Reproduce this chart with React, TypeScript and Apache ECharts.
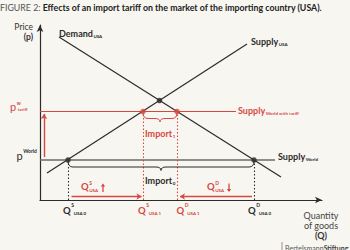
import React, { useEffect, useRef } from 'react';
import * as echarts from 'echarts';

// ---------- data (chart units: x = quantity, y = price) ----------
const xMax = 282;
const yMax = 175;
const demandLine = [[19, 163], [241, 23]];
const supplyUSALine = [[7, 27], [207, 156]];
const pWorld = 40;
const pTariff = 88.5;
const worldLineEnd = 235;
const tariffLineEnd = 196;
const qS0 = 28;
const qS1 = 103;
const qD1 = 137;
const qD0 = 214;
const equilibrium = [119.5, 99.5];
const priceArrow = [[4, 43], [4, 86]];
const supplyArrow = [[31.5, 3.5], [101.5, 3.5]];
const demandArrow = [[212, 3.5], [140, 3.5]];
const titleLead = 'FIGURE 2: ';
const titleMain = 'Effects of an import tariff on the market of the importing country (USA).';

// ---------- style ----------
const RED = '#d6473f';
const INK = '#2b2b2b';
const GRAY = '#6a6a6a';
const BG = '#f7f6f1';
const FF = 'Lato, "Noto Sans", sans-serif';
const G = { left: 40, top: 25, right: 28, bottom: 50 };
const px = (x: number) => G.left + x;
const py = (y: number) => 250 - G.bottom - y;

let ctx: CanvasRenderingContext2D | null = null;
function tw(text: string, size: number, weight: string) {
  if (!ctx) ctx = document.createElement('canvas').getContext('2d');
  if (!ctx) return text.length * size * 0.5;
  ctx.font = `${weight} ${size}px Lato`;
  return ctx.measureText(text).width;
}

function lab(o: {
  x: number; y: number; base: string; sup?: string; sub?: string; color: string;
  size?: number; weight?: string; small?: number; subDx?: number; supDy?: number; subDy?: number;
}) {
  const size = o.size ?? 9;
  const weight = o.weight ?? 'bold';
  const small = o.small ?? 5;
  const wb = tw(o.base, size, weight);
  const els: any[] = [
    { type: 'text', x: o.x, y: o.y, style: { text: o.base, fill: o.color, fontSize: size, fontWeight: weight, fontFamily: FF, verticalAlign: 'middle', align: 'left' } },
  ];
  if (o.sup) els.push({ type: 'text', x: o.x + wb + 0.5, y: o.y + (o.supDy ?? -size * 0.5), style: { text: o.sup, fill: o.color, fontSize: small + 0.5, fontWeight: 'bold', fontFamily: FF, verticalAlign: 'middle', align: 'left' } });
  if (o.sub) els.push({ type: 'text', x: o.x + wb + (o.subDx ?? 0.5), y: o.y + (o.subDy ?? size * 0.38), style: { text: o.sub, fill: o.color, fontSize: small, fontWeight: 'bold', fontFamily: FF, verticalAlign: 'middle', align: 'left' } });
  return els;
}

function arrowGlyph(x: number, y: number, up: boolean) {
  const top = y - 4.5, bot = y + 4;
  return [
    { type: 'line', shape: { x1: x, y1: up ? top + 2 : top, x2: x, y2: up ? bot : bot - 2 }, style: { stroke: RED, lineWidth: 1.3 } },
    { type: 'polygon', shape: { points: up ? [[x - 2.2, top + 3], [x + 2.2, top + 3], [x, top]] : [[x - 2.2, bot - 3], [x + 2.2, bot - 3], [x, bot]] }, style: { fill: RED } },
  ];
}

function braceSeries(x0: number, x1: number, y: number, color: string) {
  return {
    type: 'custom',
    silent: true,
    z: 3,
    data: [[x0, x1, y]],
    renderItem: (_p: any, api: any) => {
      const a = api.coord([api.value(0), api.value(2)]);
      const b = api.coord([api.value(1), api.value(2)]);
      const y0 = a[1] + 1;
      const yf = y0 + 6;
      const yt = y0 + 9.5;
      const r = 5;
      const ax = a[0], bx = b[0], m = (ax + bx) / 2;
      const d = `M${ax},${y0} Q${ax},${yf} ${ax + r},${yf} L${m - r},${yf} Q${m},${yf} ${m},${yt} Q${m},${yf} ${m + r},${yf} L${bx - r},${yf} Q${bx},${yf} ${bx},${y0}`;
      return { type: 'path', shape: { pathData: d }, style: { stroke: color, fill: 'none', lineWidth: 1 } };
    },
  };
}

export default function App() {
  const ref = useRef<HTMLDivElement>(null);
  useEffect(() => {
    if (!ref.current) return;
    const chart = echarts.init(ref.current, null, { renderer: 'svg' });
    const axisCommon = {
      type: 'value',
      axisLine: { show: true, onZero: false, symbol: ['none', 'arrow'], symbolSize: [5, 7], lineStyle: { color: INK, width: 1.2 } },
      axisTick: { show: false },
      axisLabel: { show: false },
      splitLine: { show: false },
    };
    const qLabelY = 210;
    const graphic: any[] = [
      {
        type: 'text', x: 0, y: 7,
        style: {
          text: `{a|${titleLead}}{b|${titleMain}}`, verticalAlign: 'middle',
          rich: {
            a: { fontSize: 8.8, fontFamily: FF, fill: '#555', fontWeight: 'normal' },
            b: { fontSize: 8.8, fontFamily: FF, fill: '#222', fontWeight: 'bold' },
          },
        },
      },
      { type: 'text', x: 33, y: 27, style: { text: 'Price', fontSize: 8.5, fontFamily: FF, fill: '#333', align: 'right', verticalAlign: 'middle' } },
      { type: 'text', x: 33, y: 37, style: { text: '(p)', fontSize: 8.5, fontWeight: 'bold', fontFamily: FF, fill: '#333', align: 'right', verticalAlign: 'middle' } },
      ...lab({ x: 10, y: py(pTariff) - 5, base: 'p', sup: 'w', sub: 'tariff', color: RED, size: 11, weight: 'normal', small: 4.5, supDy: -4, subDy: 3, subDx: 1.5 }),
      ...lab({ x: 16.5, y: py(pWorld) - 5, base: 'p', sup: 'World', color: INK, size: 11, weight: 'normal', small: 4.5, supDy: -4.5 }),
      ...lab({ x: px(demandLine[0][0]), y: 33, base: 'Demand', sub: 'USA', color: INK, size: 9, small: 4.5, subDy: 3 }),
      ...lab({ x: px(supplyUSALine[1][0]) + 4, y: 41.5, base: 'Supply', sub: 'USA', color: INK, size: 9, small: 4.5, subDy: 3 }),
      ...lab({ x: px(tariffLineEnd) + 2, y: py(pTariff) - 1, base: 'Supply', sub: 'World with tariff', color: RED, size: 9, small: 4.5, subDy: 3 }),
      ...lab({ x: px(worldLineEnd) + 3, y: py(pWorld) - 3.5, base: 'Supply', sub: 'World', color: INK, size: 9, small: 4.5, subDy: 3 }),
      ...lab({ x: px((qS1 + qD1) / 2) - 15, y: 133, base: 'Import', sub: '1', color: RED, size: 9, small: 4.5, subDy: 3 }),
      ...lab({ x: px((qS0 + qD0) / 2) - 16, y: 180, base: 'Import', sub: '0', color: INK, size: 9, small: 4.5, subDy: 3 }),
      ...lab({ x: px(qS0) + 13, y: 186.5, base: 'Q', sup: 'S', sub: 'USA', color: RED, size: 9.5, small: 4.5, subDy: 4, supDy: -4 }),
      ...arrowGlyph(px(qS0) + 35, 188, true),
      ...lab({ x: px(qD1) + 30, y: 186.5, base: 'Q', sup: 'D', sub: 'USA', color: RED, size: 9.5, small: 4.5, subDy: 4, supDy: -4 }),
      ...arrowGlyph(px(qD1) + 52, 188, false),
      ...lab({ x: px(qS0) - 5, y: qLabelY, base: 'Q', sup: 'S', sub: 'USA 0', color: INK, size: 9.5, small: 4.5, subDx: 3, subDy: 3.5, supDy: -5 }),
      ...lab({ x: px(qS1) - 5, y: qLabelY, base: 'Q', sup: 'S', sub: 'USA 1', color: RED, size: 9.5, small: 4.5, subDx: 3, subDy: 3.5, supDy: -5 }),
      ...lab({ x: px(qD1) - 0.5, y: qLabelY, base: 'Q', sup: 'D', sub: 'USA 1', color: RED, size: 9.5, small: 4.5, subDx: 3, subDy: 3.5, supDy: -5 }),
      ...lab({ x: px(qD0) - 6, y: qLabelY, base: 'Q', sup: 'D', sub: 'USA 0', color: INK, size: 9.5, small: 4.5, subDx: 3, subDy: 3.5, supDy: -5 }),
      { type: 'text', x: 321, y: 215, style: { text: 'Quantity', fontSize: 9, fontFamily: FF, fill: '#444', align: 'center', verticalAlign: 'middle' } },
      { type: 'text', x: 321, y: 225, style: { text: 'of goods', fontSize: 9, fontFamily: FF, fill: '#444', align: 'center', verticalAlign: 'middle' } },
      { type: 'text', x: 321, y: 235, style: { text: '(Q)', fontSize: 9, fontWeight: 'bold', fontFamily: FF, fill: '#333', align: 'center', verticalAlign: 'middle' } },
      { type: 'line', shape: { x1: 282, y1: 242, x2: 282, y2: 250 }, style: { stroke: '#555', lineWidth: 0.6 } },
      {
        type: 'text', x: 285, y: 244,
        style: {
          text: '{a|Bertelsmann}{b|Stiftung}', verticalAlign: 'top',
          rich: {
            a: { fontSize: 7, fontFamily: FF, fill: '#555' },
            b: { fontSize: 7, fontFamily: FF, fill: '#444', fontWeight: 'bold' },
          },
        },
      },
    ];

    chart.setOption({
      animation: false,
      backgroundColor: BG,
      grid: { ...G, containLabel: false },
      xAxis: { ...axisCommon, min: 0, max: xMax },
      yAxis: { ...axisCommon, min: 0, max: yMax },
      series: [
        { type: 'line', data: demandLine, showSymbol: false, silent: true, lineStyle: { color: INK, width: 1.2 }, z: 2 },
        { type: 'line', data: supplyUSALine, showSymbol: false, silent: true, lineStyle: { color: INK, width: 1.2 }, z: 2 },
        { type: 'line', data: [[0, pWorld], [worldLineEnd, pWorld]], showSymbol: false, silent: true, lineStyle: { color: GRAY, width: 1.6 }, z: 2 },
        { type: 'line', data: [[0, pTariff], [tariffLineEnd, pTariff]], showSymbol: false, silent: true, lineStyle: { color: RED, width: 1.2 }, z: 2 },
        {
          type: 'lines', coordinateSystem: 'cartesian2d', silent: true, z: 1,
          lineStyle: { width: 1.1, type: [1.5, 2], opacity: 1 },
          data: [
            { coords: [[qS0, 0], [qS0, pWorld]], lineStyle: { color: INK } },
            { coords: [[qD0, 0], [qD0, pWorld]], lineStyle: { color: INK } },
            { coords: [[qS1, 0], [qS1, pTariff]], lineStyle: { color: RED } },
            { coords: [[qD1, 0], [qD1, pTariff]], lineStyle: { color: RED } },
          ],
        },
        {
          type: 'lines', coordinateSystem: 'cartesian2d', silent: true, z: 3,
          symbol: ['none', 'arrow'], symbolSize: 5,
          lineStyle: { color: RED, width: 1.4, opacity: 1 },
          data: [{ coords: priceArrow }, { coords: supplyArrow }, { coords: demandArrow }],
        },
        braceSeries(qS0, qD0, pWorld, INK),
        braceSeries(qS1, qD1, pTariff, RED),
        { type: 'scatter', data: [[qS0, pWorld], [qD0, pWorld], equilibrium], symbolSize: 5.5, itemStyle: { color: INK }, silent: true, z: 5 },
        { type: 'scatter', data: [[qS1, pTariff], [qD1, pTariff]], symbolSize: 5.5, itemStyle: { color: RED }, silent: true, z: 5 },
      ],
      graphic,
    });
    return () => chart.dispose();
  }, []);
  return <div ref={ref} style={{ position: 'fixed', left: 0, top: 0, width: 350, height: 250 }} />;
}
